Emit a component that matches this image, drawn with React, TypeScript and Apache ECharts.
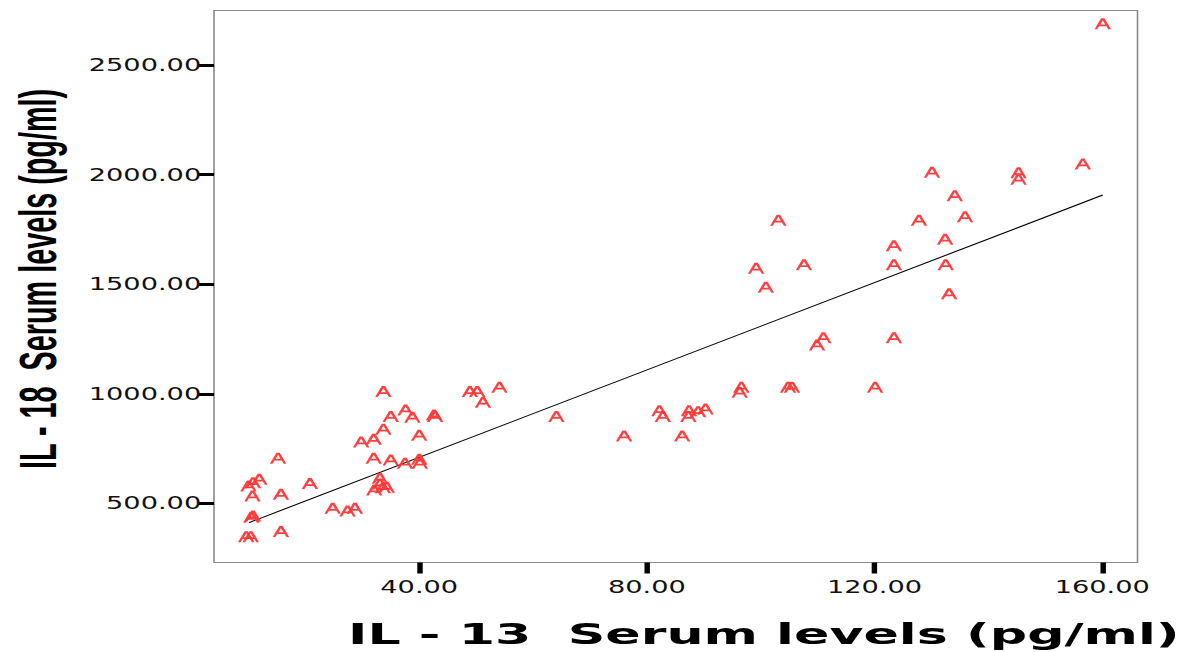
import React, { useEffect, useRef } from "react";
import * as echarts from "echarts";

// horizontal stretch of the original picture
const STRETCH = 1.6;
const PAGE_W = 1188;
const PAGE_H = 652;

const il13 = [
  11.9, 10.8, 10.0, 10.7, 10.8, 10.5, 10.4, 9.6, 15.7, 15.7, 15.2, 20.8, 24.8, 27.4, 28.7,
  29.8, 32.0, 33.7, 33.7, 32.0, 35.0, 37.5, 40.0, 40.1, 33.1, 33.1, 33.6, 32.1, 34.3,
  35.0, 37.6, 38.8, 40.0, 42.6, 42.8, 48.9, 50.2, 51.2, 54.1, 64.1, 76.0, 86.2, 82.2,
  82.8, 87.4, 87.3, 89.0, 90.3, 96.6, 96.3, 104.8, 105.5, 120.1,
  99.2, 100.9, 103.1, 107.6, 109.9, 111.0, 123.4, 123.4, 123.4, 127.8, 130.1, 132.4,
  132.5, 133.1, 134.1, 135.9, 145.3, 145.3, 156.6, 160.1,
];
const il18 = [
  610, 594, 579, 534, 442, 436, 348, 348, 371, 541, 706, 590, 477, 465, 477,
  780, 792, 838, 1010, 706, 698, 683, 701, 683, 614, 588, 571, 561, 573,
  896, 926, 893, 811, 903, 896, 1010, 1010, 961, 1030, 896, 807, 807, 923,
  896, 923, 896, 918, 931, 1030, 1007, 1030, 1030, 1030,
  1573, 1486, 1792, 1589, 1223, 1256, 1256, 1676, 1589, 1792, 2011, 1705,
  1589, 1456, 1904, 1808, 2009, 1979, 2049, 2688,
];

const fitX = [10.1, 160.1];
const fitY = [412, 1907];

const xTicks = [40, 80, 120, 160];
const yTicks = [500, 1000, 1500, 2000, 2500];

const xTitle = "IL - 13  Serum levels (pg/ml)";
const yTitle = "IL - 18  Serum levels (pg/ml)";

const A_PATH =
  "path://M0,10 L6,0 L9,0 L15,10 L12.6,10 L10.8,7.1 L4.2,7.1 L2.4,10 Z M5.3,5.5 L9.7,5.5 L7.5,1.9 Z";

export default function App() {
  const ref = useRef<HTMLDivElement>(null);
  useEffect(() => {
    if (!ref.current) return;
    const w = PAGE_W / STRETCH;
    const chart = echarts.init(ref.current, null, { renderer: "svg", width: w, height: PAGE_H });
    const fmt = (v: number) => v.toFixed(2);
    chart.setOption({
      animation: false,
      backgroundColor: "#ffffff",
      grid: {
        left: 214 / STRETCH,
        right: w - 1137.5 / STRETCH,
        top: 10.5,
        bottom: PAGE_H - 562.5,
        show: true,
        borderColor: "#8a8a8a",
        borderWidth: 1,
        backgroundColor: "transparent",
      },
      xAxis: {
        type: "value",
        min: 3.94,
        max: 166.2,
        axisLine: { show: false },
        splitLine: { show: false },
        axisTick: {
          show: true,
          customValues: xTicks,
          length: 11,
          lineStyle: { color: "#000", width: 3.4 },
        },
        axisLabel: {
          customValues: xTicks,
          formatter: fmt,
          margin: 16,
          fontFamily: "DejaVu Sans",
          fontSize: 17,
          color: "#111",
        },
      },
      yAxis: {
        type: "value",
        min: 230,
        max: 2749,
        axisLine: { show: false },
        splitLine: { show: false },
        axisTick: {
          show: true,
          customValues: yTicks,
          length: 15 / STRETCH,
          lineStyle: { color: "#000", width: 3 },
        },
        axisLabel: {
          customValues: yTicks,
          formatter: fmt,
          margin: 8,
          fontFamily: "DejaVu Sans",
          fontSize: 17,
          color: "#111",
        },
      },
      graphic: [
        {
          type: "text",
          x: 38.4 / STRETCH,
          y: 279,
          rotation: Math.PI / 2,
          scaleX: 0.9,
          style: {
            text: yTitle,
            fontFamily: "Liberation Sans",
            fontWeight: "bold",
            fontSize: 32,
            fill: "#000",
            align: "center",
            verticalAlign: "middle",
            textAlign: "center",
            textVerticalAlign: "middle",
          },
        },
        {
          type: "text",
          x: 348 / STRETCH,
          y: 634,
          scaleX: 1.125,
          style: {
            text: xTitle,
            fontFamily: "DejaVu Sans",
            fontWeight: "bold",
            fontSize: 29,
            fill: "#000",
            align: "left",
            verticalAlign: "middle",
            textAlign: "left",
            textVerticalAlign: "middle",
          },
        },
      ],
      series: [
        {
          type: "line",
          data: fitX.map((x, i) => [x, fitY[i]]),
          symbol: "none",
          lineStyle: { color: "#000", width: 1 },
          z: 2,
        },
        {
          type: "scatter",
          data: il13.map((x, i) => [x, il18[i]]),
          symbol: A_PATH,
          symbolSize: [16.5 / STRETCH, 11],
          itemStyle: { color: "#ff3636", opacity: 0.95 },
          z: 3,
        },
      ],
    });
    return () => chart.dispose();
  }, []);
  return (
    <div
      ref={ref}
      style={{
        position: "absolute",
        left: 0,
        top: 0,
        width: PAGE_W / STRETCH,
        height: PAGE_H,
        transform: `scaleX(${STRETCH})`,
        transformOrigin: "0 0",
      }}
    />
  );
}
